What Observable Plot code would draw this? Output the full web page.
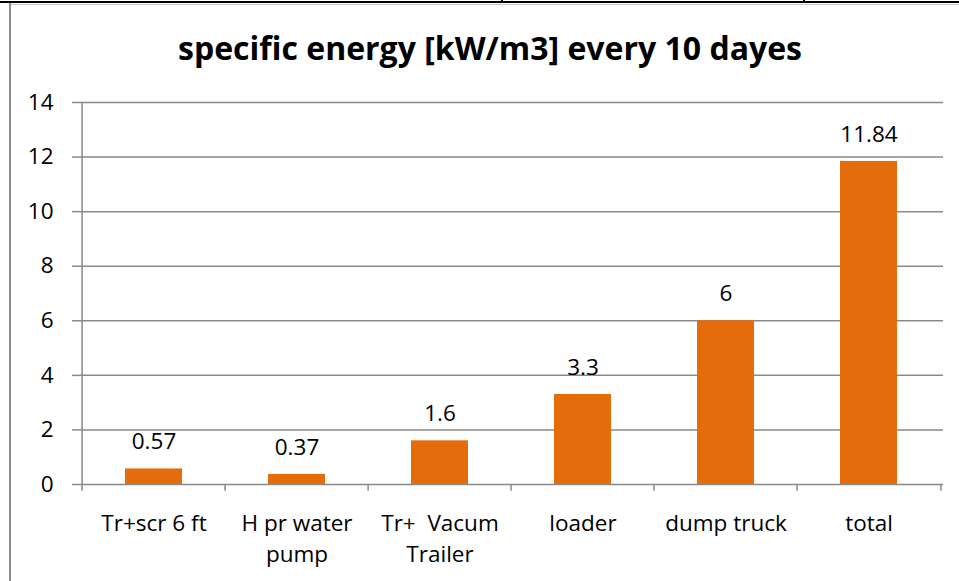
<!DOCTYPE html>
<html><head><meta charset="utf-8">
<script src="https://cdn.jsdelivr.net/npm/d3@7"></script>
<script src="https://cdn.jsdelivr.net/npm/@observablehq/plot@0.6"></script>
<style>
body{margin:0;background:#fff;}
#wrap{position:relative;width:959px;height:581px;overflow:hidden;font-family:"Open Sans",sans-serif;background:#fff;}
.blk{position:absolute;background:#000;}
.gry{position:absolute;background:#8c8c8c;}
#title{position:absolute;left:0;width:980px;top:29px;text-align:center;font-weight:bold;font-size:32px;line-height:38px;color:#000;white-space:nowrap;}
#chart{position:absolute;left:0;top:0;}
#chart text{white-space:pre;}
</style></head><body>
<div id="wrap">
  <div class="blk" style="left:0;top:1px;width:959px;height:2px;"></div>
  <div class="blk" style="left:501px;top:0;width:2px;height:3px;"></div>
  <div class="blk" style="left:803px;top:0;width:2px;height:3px;"></div>
  <div class="gry" style="left:10px;top:4px;width:949px;height:1px;background:#c8c8c8;"></div>
  <div class="gry" style="left:9px;top:3px;width:2px;height:578px;"></div>
  <div id="title">specific energy [kW/m3] every 10 dayes</div>
  <div id="chart"></div>
</div>
<script>
const categories = ["Tr+scr 6 ft", "H pr water pump", "Tr+  Vacum Trailer", "loader", "dump truck", "total"];
const tickLabels = ["Tr+scr 6 ft", "H pr water\npump", "Tr+  Vacum\nTrailer", "loader", "dump truck", "total"];
const values = [0.57, 0.37, 1.6, 3.3, 6, 11.84];
const valueLabels = ["0.57", "0.37", "1.6", "3.3", "6", "11.84"];
const yTicks = [0, 2, 4, 6, 8, 10, 12, 14];

const data = categories.map((c, i) => ({c, v: values[i], label: valueLabels[i]}));
const labelOf = Object.fromEntries(categories.map((c, i) => [c, tickLabels[i]]));

const W = 959, H = 581, mL = 80, mR = 16, mT = 102, mB = 97;
const step = (W - mL - mR) / categories.length;
const grid = "#898989";
const fs = 22.5;

const plot = Plot.plot({
  width: W, height: H,
  marginLeft: mL, marginRight: mR, marginTop: mT, marginBottom: mB,
  style: {fontFamily: "'Open Sans', sans-serif", fontSize: fs + "px", color: "#000", background: "transparent", overflow: "visible"},
  x: {domain: categories, paddingInner: 0.6, paddingOuter: 0.3},
  y: {domain: [0, 14]},
  marks: [
    Plot.ruleY(yTicks, {stroke: grid, strokeWidth: 1.5}),
    Plot.ruleX(categories, {x: d => d, dx: -step / 2, y1: 0, y2: -0.25, stroke: grid, strokeWidth: 1.5}),
    Plot.ruleX([categories[categories.length - 1]], {x: d => d, dx: step / 2, y1: 0, y2: -0.25, stroke: grid, strokeWidth: 1.5}),
    Plot.ruleX([categories[0]], {x: d => d, dx: -step / 2, y1: 0, y2: 14, stroke: grid, strokeWidth: 1.5}),
    Plot.barY(data, {x: "c", y: "v", fill: "#E46C0A"}),
    Plot.text(data, {x: "c", y: "v", text: "label", dy: -27, lineAnchor: "middle", fill: "#000", fontSize: fs}),
    Plot.axisY({ticks: yTicks, tickSize: 8, tickPadding: 19, stroke: grid, strokeWidth: 1.5, fill: "#000", fontSize: fs, label: null}),
    Plot.axisX({tickSize: 0, tickPadding: 24, tickFormat: d => labelOf[d], lineHeight: 1.38, fontSize: fs, label: null, fill: "#000"})
  ]
});
document.getElementById("chart").appendChild(plot);
</script>
</body></html>
